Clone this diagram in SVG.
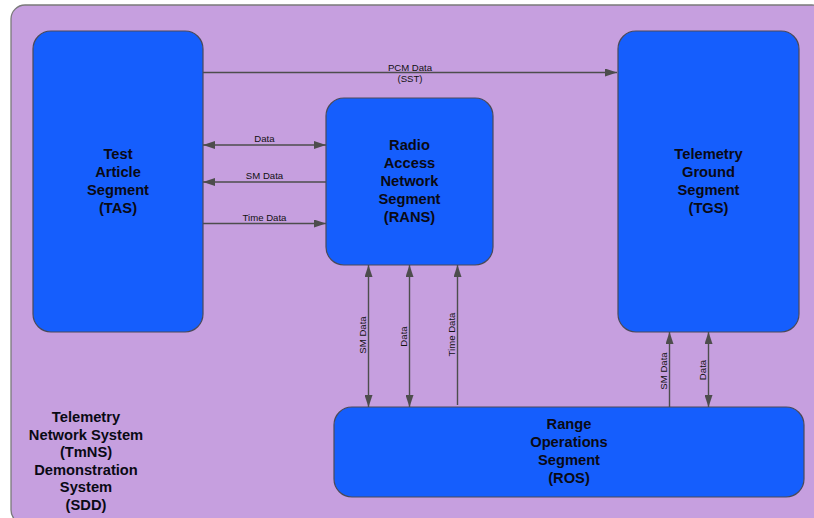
<svg xmlns="http://www.w3.org/2000/svg" width="814" height="518" viewBox="0 0 814 518">
<style>
.node{fill:#155efd;stroke:#4a4a5a;stroke-width:1.2}
.nt{font-family:"Liberation Sans",Arial,sans-serif;font-weight:bold;font-size:14.7px;fill:#0a0a14;text-anchor:middle}
.lt{font-family:"Liberation Sans",Arial,sans-serif;font-size:9.6px;fill:#111;text-anchor:middle}
.c{stroke:#4d4d4d;stroke-width:1.4;fill:none}
</style>
<defs>
<marker id="ah" markerUnits="userSpaceOnUse" markerWidth="12" markerHeight="8" refX="12" refY="4" orient="auto-start-reverse" viewBox="0 0 12 8">
<path d="M0,0 L12,4 L0,8 z" fill="#4d4d4d"/>
</marker>
</defs>
<rect width="814" height="518" fill="#ffffff"/>
<g id="system">
<rect x="11" y="5" width="815" height="519" rx="14" fill="#c69fdf" stroke="#7a7a7a" stroke-width="1.3"/>
<text class="nt"><tspan x="86" y="422">Telemetry</tspan><tspan x="86" y="439.5">Network System</tspan><tspan x="86" y="457">(TmNS)</tspan><tspan x="86" y="474.5">Demonstration</tspan><tspan x="86" y="492">System</tspan><tspan x="86" y="509.5">(SDD)</tspan></text>
</g>
<g id="TAS">
<rect class="node" x="33" y="31" width="170" height="301" rx="18"/>
<text class="nt"><tspan x="118" y="159">Test</tspan><tspan x="118" y="177">Article</tspan><tspan x="118" y="195">Segment</tspan><tspan x="118" y="213">(TAS)</tspan></text>
</g>
<g id="TGS">
<rect class="node" x="618" y="31" width="181" height="301" rx="18"/>
<text class="nt"><tspan x="708.5" y="159">Telemetry</tspan><tspan x="708.5" y="177">Ground</tspan><tspan x="708.5" y="195">Segment</tspan><tspan x="708.5" y="213">(TGS)</tspan></text>
</g>
<g id="RANS">
<rect class="node" x="326" y="98" width="167" height="167" rx="18"/>
<text class="nt"><tspan x="409.5" y="150">Radio</tspan><tspan x="409.5" y="168">Access</tspan><tspan x="409.5" y="186">Network</tspan><tspan x="409.5" y="204">Segment</tspan><tspan x="409.5" y="222">(RANS)</tspan></text>
</g>
<g id="ROS">
<rect class="node" x="334" y="407" width="470" height="90" rx="18"/>
<text class="nt"><tspan x="569" y="429">Range</tspan><tspan x="569" y="447">Operations</tspan><tspan x="569" y="465">Segment</tspan><tspan x="569" y="483">(ROS)</tspan></text>
</g>
<g id="connectors">
<line class="c" x1="203" y1="72.5" x2="617" y2="72.5" marker-end="url(#ah)"/>
<text class="lt" x="410" y="70.5">PCM Data</text>
<text class="lt" x="410" y="82">(SST)</text>
<line class="c" x1="203" y1="145" x2="326" y2="145" marker-start="url(#ah)" marker-end="url(#ah)"/>
<text class="lt" x="264.5" y="141.5">Data</text>
<line class="c" x1="326" y1="182" x2="203" y2="182" marker-end="url(#ah)"/>
<text class="lt" x="264.5" y="178.5">SM Data</text>
<line class="c" x1="203" y1="223.5" x2="326" y2="223.5" marker-end="url(#ah)"/>
<text class="lt" x="264.5" y="220.5">Time Data</text>
<line class="c" x1="368.5" y1="265" x2="368.5" y2="407" marker-start="url(#ah)" marker-end="url(#ah)"/>
<text class="lt" transform="translate(365.5,335) rotate(-90)">SM Data</text>
<line class="c" x1="409.5" y1="265" x2="409.5" y2="407" marker-start="url(#ah)" marker-end="url(#ah)"/>
<text class="lt" transform="translate(406.5,336.5) rotate(-90)">Data</text>
<line class="c" x1="457.5" y1="405" x2="457.5" y2="265" marker-end="url(#ah)"/>
<text class="lt" transform="translate(455,334.5) rotate(-90)">Time Data</text>
<line class="c" x1="669.5" y1="407" x2="669.5" y2="332" marker-end="url(#ah)"/>
<text class="lt" transform="translate(666.5,371) rotate(-90)">SM Data</text>
<line class="c" x1="708.5" y1="332" x2="708.5" y2="407" marker-start="url(#ah)" marker-end="url(#ah)"/>
<text class="lt" transform="translate(706,370) rotate(-90)">Data</text>
</g>
</svg>
